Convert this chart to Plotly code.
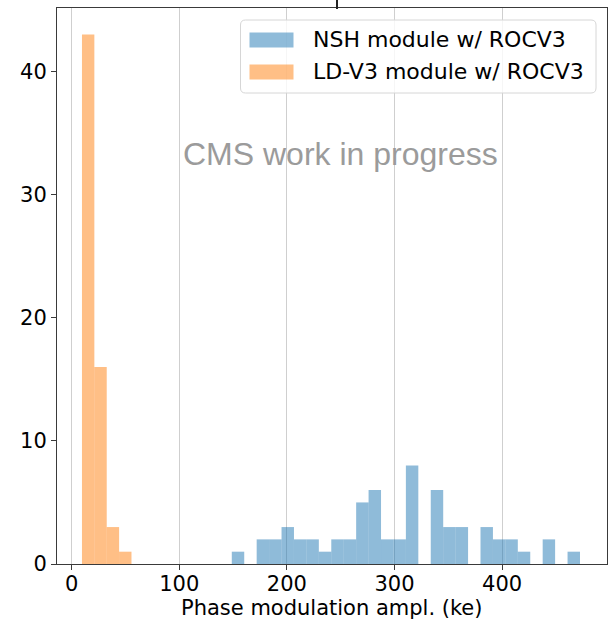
import numpy as np
import plotly.graph_objects as go

# Histogram counts (modules per bin) and the value span covered by the bins
nsh_counts = [1, 0, 2, 2, 3, 2, 2, 1, 2, 2, 5, 6, 2, 2, 8, 0, 6, 3, 3, 0, 3, 2, 2, 1, 0, 2, 0, 1]
nsh_span = (148.8, 472.3)
ld_counts = [43, 16, 3, 1]
ld_span = (9.6, 55.6)

series_names = ["NSH module w/ ROCV3", "LD-V3 module w/ ROCV3"]
series_colors = ["rgba(31,119,180,0.5)", "rgba(255,127,14,0.5)"]
x_ticks = [0, 100, 200, 300, 400]
y_ticks = [0, 10, 20, 30, 40]
x_title = "Phase modulation ampl. (ke)"
watermark = "CMS work in progress"

W, H = 613, 620
L, R, T, B = 57, 607, 8, 564  # plot-area edges in pixels


def px(x):
    return (x - L) / (R - L)


def py(y):
    return (B - y) / (B - T)


def bins(counts, span):
    edges = np.linspace(span[0], span[1], len(counts) + 1)
    return (edges[:-1] + edges[1:]) / 2, edges[1] - edges[0]


fig = go.Figure()
for counts, span, name, color in zip([nsh_counts, ld_counts], [nsh_span, ld_span],
                                     series_names, series_colors):
    centers, width = bins(counts, span)
    fig.add_trace(go.Bar(x=centers, y=counts, width=width, name=name,
                         marker=dict(color=color, line=dict(width=0)),
                         showlegend=False))

font = "DejaVu Sans"
axis_common = dict(showline=True, mirror=True, linecolor="#3a3a3a", linewidth=1,
                   ticks="outside", ticklen=5, tickcolor="#3a3a3a", zeroline=False,
                   automargin=False,
                   tickfont=dict(family=font, size=21, color="black"))

fig.update_layout(
    width=W, height=H,
    margin=dict(l=L, r=W - R, t=T, b=H - B),
    plot_bgcolor="white", paper_bgcolor="white",
    barmode="overlay",
    xaxis=dict(range=[-13.6, 497.4], tickvals=x_ticks, showgrid=True,
               gridcolor="#cfcfcf", gridwidth=1, ticklabelstandoff=-4, **axis_common),
    yaxis=dict(range=[0, 45.15], tickvals=y_ticks, showgrid=False, **axis_common),
)

# x-axis title
fig.add_annotation(x=0.5, y=py(607.5), xref="paper", yref="paper",
                   text=x_title, showarrow=False, xanchor="center", yanchor="middle",
                   font=dict(family=font, size=21, color="black"))

# Legend frame with rounded corners
bx0, bx1, by0, by1, r = 240.5, 596, 20, 93, 5
rx, ry = r / (R - L), r / (B - T)
X0, X1, Y0, Y1 = px(bx0), px(bx1), py(by1), py(by0)
path = (f"M{X0 + rx},{Y0} L{X1 - rx},{Y0} Q{X1},{Y0} {X1},{Y0 + ry} "
        f"L{X1},{Y1 - ry} Q{X1},{Y1} {X1 - rx},{Y1} L{X0 + rx},{Y1} "
        f"Q{X0},{Y1} {X0},{Y1 - ry} L{X0},{Y0 + ry} Q{X0},{Y0} {X0 + rx},{Y0} Z")
fig.add_shape(type="path", path=path, xref="paper", yref="paper",
              fillcolor="rgba(255,255,255,0.8)", line=dict(color="#d6d6d6", width=1))

row_y = [40, 72]
for yc, name, color in zip(row_y, series_names, series_colors):
    fig.add_shape(type="rect", xref="paper", yref="paper",
                  x0=px(249.5), x1=px(293.5), y0=py(yc + 7.5), y1=py(yc - 7.5),
                  fillcolor=color, line=dict(width=0))
    fig.add_annotation(x=px(311), y=py(yc), xref="paper", yref="paper",
                       text=name, showarrow=False, xanchor="left", yanchor="middle",
                       font=dict(family=font, size=22, color="black"))

fig.add_annotation(x=px(340), y=py(154), xref="paper", yref="paper",
                   text=watermark, showarrow=False, xanchor="center", yanchor="middle",
                   font=dict(family="Liberation Sans", size=32, color="#9b9b9b"))

# short dark mark above the frame
fig.add_shape(type="line", xref="paper", yref="paper",
              x0=px(337), x1=px(337), y0=py(9), y1=py(0),
              line=dict(color="#222", width=2))

fig.write_html("out.html")
